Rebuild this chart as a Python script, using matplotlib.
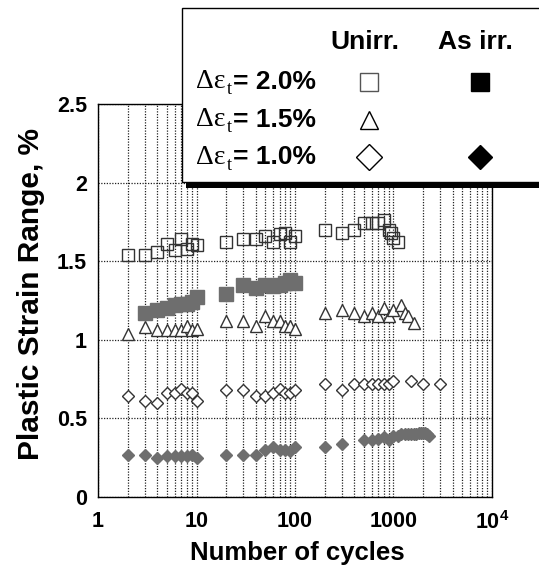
"""Plastic strain range vs number of cycles, unirradiated and as-irradiated."""

import matplotlib
matplotlib.use("Agg")
import matplotlib.pyplot as plt
from matplotlib.patches import Rectangle
from matplotlib.ticker import FixedLocator, LogLocator, NullFormatter

plt.rcParams["mathtext.fontset"] = "custom"
plt.rcParams["mathtext.rm"] = "Liberation Serif"
plt.rcParams["mathtext.bf"] = "Liberation Sans:bold"

SANS = "Liberation Sans"
SERIF = "Liberation Serif"

# --- data -----------------------------------------------------------------
n_unirr_20 = [2, 3, 4, 5, 6, 7, 8, 9, 10, 20, 30, 40, 50, 60, 70, 80, 90, 100,
              200, 300, 400, 500, 600, 700, 800, 900, 950, 1000, 1100]
eps_unirr_20 = [1.54, 1.54, 1.56, 1.61, 1.57, 1.64, 1.58, 1.61, 1.60, 1.62,
                1.64, 1.64, 1.66, 1.62, 1.67, 1.68, 1.62, 1.66, 1.70, 1.68,
                1.70, 1.74, 1.74, 1.74, 1.76, 1.70, 1.68, 1.65, 1.62]

n_unirr_15 = [2, 3, 4, 5, 6, 7, 8, 9, 10, 20, 30, 40, 50, 60, 70, 80, 90, 100,
              200, 300, 400, 500, 600, 700, 800, 900, 1000, 1200, 1300, 1400, 1600]
eps_unirr_15 = [1.04, 1.08, 1.06, 1.06, 1.06, 1.06, 1.09, 1.06, 1.07, 1.12,
                1.12, 1.09, 1.15, 1.12, 1.12, 1.09, 1.09, 1.07, 1.17, 1.19,
                1.17, 1.15, 1.17, 1.15, 1.20, 1.15, 1.19, 1.22, 1.17, 1.15, 1.11]

n_unirr_10 = [2, 3, 4, 5, 6, 7, 8, 9, 10, 20, 30, 40, 50, 60, 70, 80, 90, 100,
              200, 300, 400, 500, 600, 700, 800, 900, 1000, 1500, 2000, 3000]
eps_unirr_10 = [0.64, 0.61, 0.60, 0.66, 0.66, 0.69, 0.66, 0.66, 0.61, 0.68,
                0.68, 0.64, 0.64, 0.66, 0.69, 0.66, 0.66, 0.68, 0.72, 0.68,
                0.72, 0.72, 0.72, 0.72, 0.72, 0.72, 0.74, 0.74, 0.72, 0.72]

n_irr_20 = [3, 4, 5, 6, 7, 8, 9, 10, 20, 30, 40, 50, 60, 70, 80, 90, 100]
eps_irr_20 = [1.17, 1.19, 1.20, 1.22, 1.23, 1.23, 1.24, 1.27, 1.29, 1.35,
              1.33, 1.35, 1.34, 1.35, 1.36, 1.38, 1.36]

n_irr_10 = [2, 3, 4, 5, 6, 7, 8, 9, 10, 20, 30, 40, 50, 60, 70, 80, 90, 100,
            200, 300, 500, 600, 700, 800, 900, 1000, 1100, 1200, 1300, 1400,
            1500, 1600, 1700, 1800, 1900, 2000, 2100, 2200, 2300]
eps_irr_10 = [0.27, 0.27, 0.25, 0.26, 0.26, 0.26, 0.26, 0.27, 0.25, 0.27,
              0.27, 0.27, 0.30, 0.32, 0.30, 0.30, 0.29, 0.32, 0.32, 0.34,
              0.36, 0.36, 0.37, 0.38, 0.36, 0.39, 0.39, 0.40, 0.40, 0.40,
              0.40, 0.40, 0.40, 0.41, 0.41, 0.41, 0.41, 0.40, 0.39]

x_ticks = [1, 10, 100, 1000, 10000]
x_ticklabels = ["1", "10", "100", "1000", r"10$^\mathbf{4}$"]
y_ticks = [0, 0.5, 1, 1.5, 2, 2.5]
y_ticklabels = ["0", "0.5", "1", "1.5", "2", "2.5"]

legend_rows = ["2.0%", "1.5%", "1.0%"]

OPEN_EDGE = "#333333"
IRR_GRAY = "#6e6e6e"

W, H = 539, 567
fig = plt.figure(figsize=(W / 100, H / 100), dpi=100)
ax = fig.add_axes([98 / W, (H - 497) / H, (492 - 98) / W, (497 - 104) / H])

ax.set_xscale("log")
ax.set_xlim(1, 1e4)
ax.set_ylim(0, 2.5)

mk = dict(linestyle="none", markeredgewidth=1.0, zorder=3)
ax.plot(n_unirr_20, eps_unirr_20, marker="s", markersize=8, markerfacecolor="none",
        markeredgecolor=OPEN_EDGE, **mk)
ax.plot(n_unirr_15, eps_unirr_15, marker="^", markersize=8, markerfacecolor="white",
        markeredgecolor=OPEN_EDGE, **mk)
ax.plot(n_unirr_10, eps_unirr_10, marker="D", markersize=5.8, markerfacecolor="white",
        markeredgecolor=OPEN_EDGE, **mk)
ax.plot(n_irr_20, eps_irr_20, marker="s", markersize=9.5, markerfacecolor=IRR_GRAY,
        markeredgecolor=IRR_GRAY, **mk)
ax.plot(n_irr_10, eps_irr_10, marker="D", markersize=6.2, markerfacecolor=IRR_GRAY,
        markeredgecolor=IRR_GRAY, **mk)

# dotted grid on every decade sub-division and every 0.5 on y
ax.xaxis.set_major_locator(FixedLocator(x_ticks))
ax.xaxis.set_minor_locator(LogLocator(base=10, subs=range(2, 10)))
ax.xaxis.set_minor_formatter(NullFormatter())
ax.set_xticklabels(x_ticklabels)
ax.set_yticks(y_ticks)
ax.set_yticklabels(y_ticklabels)
grid_kw = dict(color="#222222", linestyle=(0, (1, 1.2)), linewidth=0.9)
ax.grid(True, which="both", axis="x", **grid_kw)
ax.grid(True, which="major", axis="y", **grid_kw)
ax.set_axisbelow(True)

ax.tick_params(which="both", length=0)
ax.tick_params(axis="x", pad=10)
ax.tick_params(axis="y", pad=8)
for lab in ax.get_xticklabels() + ax.get_yticklabels():
    lab.set_fontfamily(SANS)
    lab.set_fontweight("bold")
    lab.set_fontsize(15.5)
for sp in ax.spines.values():
    sp.set_linewidth(1.0)

ax.set_xlabel("Number of cycles", fontfamily=SANS, fontweight="bold", fontsize=18.5)
ax.set_ylabel("Plastic Strain Range, %", fontfamily=SANS, fontweight="bold",
              fontsize=21.5)
ax.xaxis.set_label_coords((297 - 98) / 394, (497 - 541) / 393)
ax.yaxis.set_label_coords((45 - 98) / 394, (497 - 294) / 393)

# --- legend box drawn in figure pixel space ---------------------------------
lax = fig.add_axes([0, 0, 1, 1], zorder=10)
lax.set_xlim(0, W)
lax.set_ylim(H, 0)
lax.axis("off")
lax.add_patch(Rectangle((186, 12), 400, 176, facecolor="black", edgecolor="none"))
lax.add_patch(Rectangle((181.5, 7.5), 400, 174, facecolor="white",
                        edgecolor="black", linewidth=1.0))

fs = 19
lax.text(365, 42, "Unirr.", ha="center", va="center", fontfamily=SANS,
         fontweight="bold", fontsize=fs)
lax.text(475, 42, "As irr.", ha="center", va="center", fontfamily=SANS,
         fontweight="bold", fontsize=fs)

row_y = [82, 120, 157]
for y, lab in zip(row_y, legend_rows):
    lax.text(196, y, "\u0394\u03b5", ha="left", va="center", fontfamily=SERIF,
             fontsize=fs + 1)
    lax.text(227, y + 8, "t", ha="left", va="center", fontfamily=SERIF,
             fontsize=fs - 6)
    lax.text(233, y, "= " + lab, ha="left", va="center", fontfamily=SANS,
             fontweight="bold", fontsize=fs)

lax.plot([369], [row_y[0]], marker="s", markersize=12.5, markerfacecolor="white",
         markeredgecolor="#555555", markeredgewidth=1.0, linestyle="none")
lax.plot([369], [row_y[1]], marker="^", markersize=13, markerfacecolor="white",
         markeredgecolor="black", markeredgewidth=1.0, linestyle="none")
lax.plot([369], [row_y[2]], marker="D", markersize=13, markerfacecolor="white",
         markeredgecolor="black", markeredgewidth=1.0, linestyle="none")
lax.plot([480], [row_y[0]], marker="s", markersize=13, color="black", linestyle="none")
lax.plot([480], [row_y[2]], marker="D", markersize=12.5, color="black", linestyle="none")

fig.savefig("out.png", dpi=100)
